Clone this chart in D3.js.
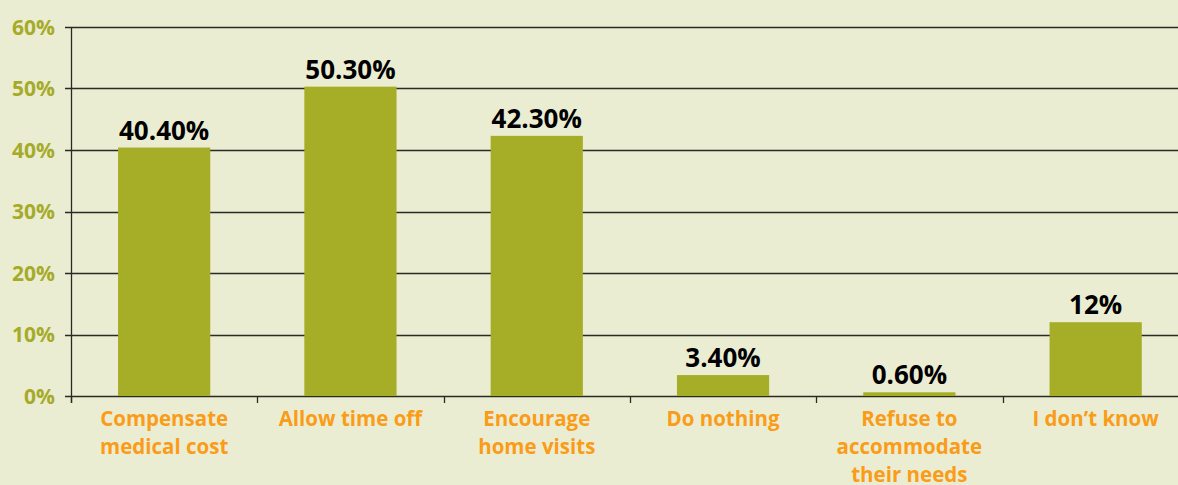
<!DOCTYPE html>
<html>
<head>
<meta charset="utf-8">
<script src="https://cdn.jsdelivr.net/npm/d3@7"></script>
<style>
  body { margin: 0; background: #ebedd3; }
  svg { display: block; }
</style>
</head>
<body>
<div id="chart"></div>
<script>
var categories = [
  ['Compensate', 'medical cost'],
  ['Allow time off'],
  ['Encourage', 'home visits'],
  ['Do nothing'],
  ['Refuse to', 'accommodate', 'their needs'],
  ['I don\u2019t know']
];
var values = [40.4, 50.3, 42.3, 3.4, 0.6, 12];
var valueLabels = ['40.40%', '50.30%', '42.30%', '3.40%', '0.60%', '12%'];
var yTicks = [0, 10, 20, 30, 40, 50, 60];

var W = 1178, H = 485;
var margin = {top: 27, left: 71, bottom: 89};
var plotH = H - margin.top - margin.bottom;
var font = '"Open Sans", "DejaVu Sans", sans-serif';

var svg = d3.select('#chart').append('svg')
  .attr('width', W)
  .attr('height', H);

svg.append('rect').attr('width', W).attr('height', H).attr('fill', '#ebedd3');

var x = d3.scaleBand()
  .domain(d3.range(values.length))
  .range([margin.left, margin.left + 186.3 * values.length])
  .paddingInner(0.505)
  .paddingOuter(0.2525);

var y = d3.scaleLinear()
  .domain([0, 60])
  .range([margin.top + plotH, margin.top]);

// grid lines
svg.append('g').selectAll('line').data(yTicks)
  .enter().append('line')
  .attr('x1', margin.left - 6)
  .attr('x2', W)
  .attr('y1', function(d) { return Math.round(y(d)) + 0.5; })
  .attr('y2', function(d) { return Math.round(y(d)) + 0.5; })
  .style('stroke', '#2a2a24')
  .style('stroke-width', 1.3);

// y labels
svg.append('g').selectAll('text').data(yTicks)
  .enter().append('text')
  .attr('x', 55)
  .attr('y', function(d) { return y(d); })
  .attr('dy', '0.36em')
  .attr('text-anchor', 'end')
  .style('font-family', font)
  .style('font-weight', 'bold')
  .style('font-size', '21px')
  .style('fill', '#a5ab28')
  .text(function(d) { return d + '%'; });

// bars
svg.append('g').selectAll('rect').data(values)
  .enter().append('rect')
  .attr('x', function(d, i) { return x(i); })
  .attr('width', x.bandwidth())
  .attr('y', function(d) { return y(d); })
  .attr('height', function(d) { return y(0) - y(d); })
  .style('fill', '#a6ad26');

// value labels
svg.append('g').selectAll('text').data(values)
  .enter().append('text')
  .attr('x', function(d, i) { return x(i) + x.bandwidth() / 2; })
  .attr('y', function(d) { return y(d) - 8; })
  .attr('text-anchor', 'middle')
  .style('font-family', font)
  .style('font-weight', 'bold')
  .style('font-size', '26px')
  .style('fill', '#000')
  .text(function(d, i) { return valueLabels[i]; });

// y axis line
var axisX = margin.left + 0.5;
svg.append('line')
  .attr('x1', axisX).attr('x2', axisX)
  .attr('y1', y(60)).attr('y2', y(0) + 7)
  .style('stroke', '#2a2a24')
  .style('stroke-width', 1.3);

// category ticks
var step = x.step();
svg.append('g').selectAll('line').data(d3.range(values.length + 1))
  .enter().append('line')
  .attr('x1', function(d) { return Math.round(margin.left + d * step) + 0.5; })
  .attr('x2', function(d) { return Math.round(margin.left + d * step) + 0.5; })
  .attr('y1', y(0))
  .attr('y2', y(0) + 7)
  .style('stroke', '#2a2a24')
  .style('stroke-width', 1.3);

// category labels
var catG = svg.append('g').selectAll('text').data(categories)
  .enter().append('text')
  .attr('x', function(d, i) { return x(i) + x.bandwidth() / 2; })
  .attr('y', y(0) + 30)
  .attr('text-anchor', 'middle')
  .style('font-family', font)
  .style('font-weight', 'bold')
  .style('font-size', '20.5px')
  .style('fill', '#fa9c17');

catG.selectAll('tspan').data(function(d) { return d; })
  .enter().append('tspan')
  .attr('x', function() { return d3.select(this.parentNode).attr('x'); })
  .attr('dy', function(d, i) { return i === 0 ? 0 : 28; })
  .text(function(d) { return d; });
</script>
</body>
</html>
